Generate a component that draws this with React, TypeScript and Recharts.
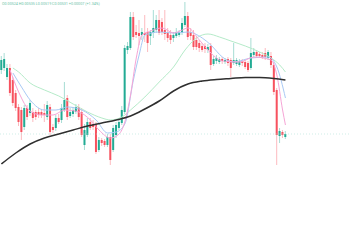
import { ComposedChart, Bar, Line, XAxis, YAxis, ReferenceLine } from "recharts";

const open = [
  70, 68, 77, 68, 80, 93, 107, 110, 127, 108, 113, 112, 112, 112, 112, 113, 117, 107, 127, 128,
  118, 120, 110, 98, 116, 114, 112, 107, 112, 145, 135, 122, 124, 125, 150, 140, 141, 145, 137, 150,
  135, 128, 123, 112, 50, 48, 17, 32, 33, 35, 33, 32, 36, 33, 30, 20, 22, 30, 32, 35,
  38, 36, 35, 33, 25, 16, 32, 35, 40, 43, 46, 46, 50, 46, 64, 61, 62, 59, 62, 59,
  60, 63, 64, 65, 61, 62, 63, 68, 55, 52, 54, 55, 53, 58, 56, 65, 90, 136, 132, 137,
];
const close = [
  60, 59, 68, 93, 103, 108, 122, 132, 108, 117, 103, 118, 117, 115, 115, 115, 105, 132, 130, 118,
  122, 108, 100, 117, 112, 110, 107, 117, 135, 130, 122, 128, 127, 152, 140, 143, 145, 137, 160, 128,
  125, 122, 110, 48, 46, 17, 37, 35, 36, 32, 35, 43, 32, 28, 20, 33, 32, 34, 38, 40,
  35, 32, 32, 23, 16, 37, 36, 47, 47, 48, 50, 49, 47, 65, 59, 58, 59, 61, 60, 63,
  68, 60, 60, 61, 63, 67, 70, 53, 52, 56, 56, 57, 57, 52, 65, 92, 135, 131, 135, 134,
];
const high = [
  56, 53, 64, 64, 77, 90, 104, 107, 105, 105, 100, 108, 110, 108, 109, 104, 101, 104, 124, 115,
  114, 104, 82, 95, 108, 107, 104, 104, 108, 124, 118, 118, 120, 122, 137, 138, 139, 134, 134, 125,
  122, 119, 106, 45, 42, 12, 12, 25, 20, 28, 15, 28, 30, 10, 15, 10, 18, 10, 28, 30,
  32, 28, 30, 18, 2, 12, 28, 30, 36, 40, 43, 43, 44, 43, 56, 55, 57, 57, 58, 57,
  58, 43, 58, 59, 59, 60, 61, 38, 48, 50, 52, 52, 48, 50, 52, 62, 88, 128, 130, 131,
];
const low = [
  74, 71, 80, 96, 106, 111, 126, 140, 130, 120, 116, 122, 120, 118, 118, 122, 120, 135, 133, 131,
  124, 123, 112, 120, 118, 117, 114, 120, 137, 150, 137, 130, 130, 154, 152, 146, 147, 147, 165, 152,
  138, 130, 125, 114, 54, 50, 40, 38, 45, 40, 42, 52, 45, 38, 33, 35, 35, 40, 42, 44,
  42, 38, 37, 35, 27, 40, 40, 50, 50, 52, 52, 53, 53, 70, 66, 64, 64, 64, 64, 66,
  77, 65, 66, 67, 66, 69, 72, 70, 57, 58, 58, 59, 60, 60, 68, 95, 165, 143, 138, 139,
];

// Moving averages as [candle index, value] read at points along each curve
const ma9 = [
  [3, 70], [6, 92], [10, 111], [14, 115], [18, 115], [22, 110], [27, 112], [31, 120], [34, 130],
  [38, 138], [41, 134], [43, 122], [45, 95], [47, 58], [49, 35], [52, 31], [56, 28], [60, 33],
  [63, 30], [65, 28], [69, 40], [73, 53], [77, 61], [83, 62], [88, 57], [94, 60], [96, 75],
  [98, 110], [99, 125],
];
const ma20 = [
  [4, 73], [7, 87], [10, 100], [15, 110], [19, 110], [23, 107], [28, 110], [33, 120], [37, 133],
  [40, 132], [43, 124], [46, 80], [48, 55], [50, 35], [55, 32], [60, 33], [65, 32], [70, 38],
  [73, 45], [77, 57], [81, 62], [87, 58], [93, 57], [96, 67], [99, 98],
];
const ma50 = [
  [4, 68], [6, 72], [10, 83], [15, 90], [20, 96], [25, 104], [30, 112], [35, 118], [38, 120],
  [42, 117], [45, 110], [50, 97], [55, 82], [60, 67], [64, 50], [68, 38], [72, 34], [76, 37],
  [80, 41], [85, 46], [90, 52], [94, 58], [97, 65], [99, 72],
];
const ma200 = [
  [0, 164], [5, 153], [10, 144], [15, 138], [20, 134], [25, 130], [30, 126], [35, 123], [40, 120],
  [45, 116], [50, 109], [55, 101], [60, 91], [65, 84], [70, 81], [75, 79.5], [80, 78.5], [85, 77.5],
  [90, 77.5], [95, 78.5], [99, 80],
];

const SLOTS = 122; // empty space to the right of the last candle
const legendText = "O0.00524 H0.00535 L0.00519 C0.00531 +0.00007 (+1.34%)";

const UP = "#22ab94";
const DOWN = "#f7525f";

const data = Array.from({ length: SLOTS }, (_, i) => {
  const row: any = { t: i };
  if (i < open.length) {
    row.open = open[i];
    row.close = close[i];
    row.high = high[i];
    row.low = low[i];
    row.range = [high[i], low[i]];
  }
  return row;
});
const addLine = (key: string, pts: number[][]) => pts.forEach(([i, v]) => (data[i][key] = v));
addLine("ma9", ma9);
addLine("ma20", ma20);
addLine("ma50", ma50);
addLine("ma200", ma200);

function Candle(props: any) {
  const { x, y, width, height, payload } = props;
  if (payload?.open == null) return null;
  const top = Math.min(y, y + height);
  const bottom = Math.max(y, y + height);
  const span = payload.low - payload.high;
  const k = span ? (bottom - top) / span : 0;
  const px = (v: number) => top + (v - payload.high) * k;
  const up = payload.close < payload.open;
  const color = up ? UP : DOWN;
  const cx = x + width / 2;
  const bTop = px(Math.min(payload.open, payload.close));
  const bBot = px(Math.max(payload.open, payload.close));
  return (
    <g>
      <line x1={cx} x2={cx} y1={top} y2={bottom} stroke={color} strokeOpacity={0.4} strokeWidth={1} />
      <rect x={cx - 1} y={bTop} width={2} height={Math.max(1, bBot - bTop)} fill={color} />
    </g>
  );
}

export default function App() {
  const last = close[close.length - 1];
  return (
    <div style={{ position: "absolute", left: 0, top: 0, width: 350, height: 250, background: "#fff" }}>
      <ComposedChart width={350} height={250} data={data} margin={{ top: 0, right: 0, bottom: 0, left: 0 }}>
        <XAxis dataKey="t" hide />
        <YAxis hide reversed domain={[0, 250]} allowDataOverflow />
        <ReferenceLine y={last} stroke="#9fdccf" strokeDasharray="1 2" strokeOpacity={0.5} />
        <Bar dataKey="range" shape={<Candle />} isAnimationActive={false} />
        <Line dataKey="ma50" type="monotone" stroke="#b5ebc9" strokeWidth={1} dot={false} activeDot={false} connectNulls isAnimationActive={false} />
        <Line dataKey="ma20" type="monotone" stroke="#a8c9f5" strokeWidth={1} dot={false} activeDot={false} connectNulls isAnimationActive={false} />
        <Line dataKey="ma9" type="monotone" stroke="#f6a5d6" strokeWidth={1} dot={false} activeDot={false} connectNulls isAnimationActive={false} />
        <Line dataKey="ma200" type="monotone" stroke="#2f2f2f" strokeWidth={1.5} dot={false} activeDot={false} connectNulls isAnimationActive={false} />
      </ComposedChart>
      <svg width={350} height={12} style={{ position: "absolute", left: 0, top: 0 }}>
        <text x={2} y={5} fontSize={3.7} fill="#6cc3a8" fontFamily="Roboto, sans-serif">
          {legendText}
        </text>
      </svg>
    </div>
  );
}
